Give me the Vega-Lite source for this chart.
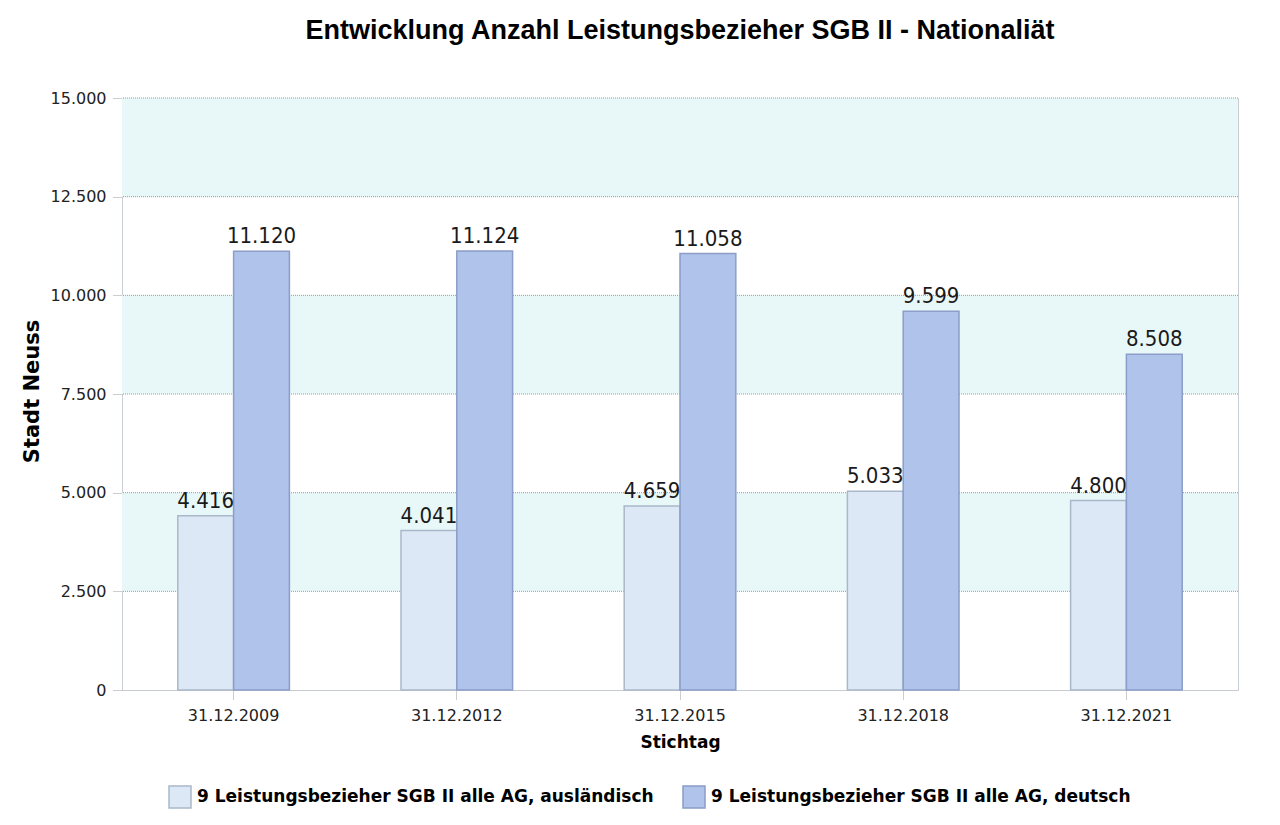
{
  "$schema": "https://vega.github.io/schema/vega-lite/v6.json",
  "autosize": "none",
  "width": 1116,
  "height": 592,
  "padding": {"left": 122, "top": 98, "right": 42, "bottom": 135},
  "background": "white",
  "config": {
    "locale": {"number": {"decimal": ",", "thousands": ".", "grouping": [3], "currency": ["", " €"]}},
    "view": {"stroke": "#c8cdd5", "strokeWidth": 1},
    "font": "DejaVu Sans"
  },
  "title": {
    "text": "Entwicklung Anzahl Leistungsbezieher SGB II - Nationaliät",
    "font": "Liberation Sans",
    "fontSize": 27,
    "fontWeight": "bold",
    "color": "#000000",
    "anchor": "middle",
    "offset": 45
  },
  "datasets": {
    "bars": [
      {"Stichtag": "31.12.2009", "Reihe": "9 Leistungsbezieher SGB II alle AG, ausländisch", "Anzahl": 4416},
      {"Stichtag": "31.12.2009", "Reihe": "9 Leistungsbezieher SGB II alle AG, deutsch", "Anzahl": 11120},
      {"Stichtag": "31.12.2012", "Reihe": "9 Leistungsbezieher SGB II alle AG, ausländisch", "Anzahl": 4041},
      {"Stichtag": "31.12.2012", "Reihe": "9 Leistungsbezieher SGB II alle AG, deutsch", "Anzahl": 11124},
      {"Stichtag": "31.12.2015", "Reihe": "9 Leistungsbezieher SGB II alle AG, ausländisch", "Anzahl": 4659},
      {"Stichtag": "31.12.2015", "Reihe": "9 Leistungsbezieher SGB II alle AG, deutsch", "Anzahl": 11058},
      {"Stichtag": "31.12.2018", "Reihe": "9 Leistungsbezieher SGB II alle AG, ausländisch", "Anzahl": 5033},
      {"Stichtag": "31.12.2018", "Reihe": "9 Leistungsbezieher SGB II alle AG, deutsch", "Anzahl": 9599},
      {"Stichtag": "31.12.2021", "Reihe": "9 Leistungsbezieher SGB II alle AG, ausländisch", "Anzahl": 4800},
      {"Stichtag": "31.12.2021", "Reihe": "9 Leistungsbezieher SGB II alle AG, deutsch", "Anzahl": 8508}
    ],
    "bands": [
      {"von": 2500, "bis": 5000},
      {"von": 7500, "bis": 10000},
      {"von": 12500, "bis": 15000}
    ],
    "grid": [
      {"wert": 2500}, {"wert": 5000}, {"wert": 7500}, {"wert": 10000}, {"wert": 12500}, {"wert": 15000}
    ]
  },
  "layer": [
    {
      "data": {"name": "bands"},
      "mark": {"type": "rect", "fill": "#e8f7f8"},
      "encoding": {
        "y": {"field": "von", "type": "quantitative", "scale": {"domain": [0, 15000], "nice": false}},
        "y2": {"field": "bis"}
      }
    },
    {
      "data": {"name": "grid"},
      "mark": {"type": "rule", "stroke": "#9a9a9a", "strokeWidth": 1, "strokeDash": [1, 1]},
      "encoding": {
        "y": {"field": "wert", "type": "quantitative"}
      }
    },
    {
      "data": {"name": "bars"},
      "mark": {"type": "bar", "strokeWidth": 1.5},
      "encoding": {
        "x": {
          "field": "Stichtag", "type": "nominal", "sort": null,
          "scale": {"paddingInner": 0.5, "paddingOuter": 0.25},
          "axis": {
            "title": "Stichtag", "labelAngle": 0,
            "labelFont": "DejaVu Sans", "labelFontSize": 16, "labelColor": "#222222", "labelPadding": 7,
            "titleFont": "DejaVu Sans", "titleFontSize": 17, "titleFontWeight": "bold", "titleColor": "#000000", "titlePadding": 11,
            "domainColor": "#c8cdd5", "tickColor": "#9a9a9a", "tickDash": [1, 1], "tickSize": 10, "grid": false
          }
        },
        "xOffset": {"field": "Reihe", "type": "nominal"},
        "y": {
          "field": "Anzahl", "type": "quantitative",
          "scale": {"domain": [0, 15000], "nice": false},
          "axis": {
            "title": "Stadt Neuss", "values": [0, 2500, 5000, 7500, 10000, 12500, 15000], "format": ",d",
            "labelFont": "DejaVu Sans", "labelFontSize": 16, "labelColor": "#222222", "labelPadding": 7,
            "titleFont": "DejaVu Sans", "titleFontSize": 21, "titleFontWeight": "bold", "titleColor": "#000000",
            "titleX": -90, "titleY": 293, "titleAngle": -90, "titleBaseline": "middle", "titleAlign": "center",
            "domainColor": "#c8cdd5", "tickColor": "#9a9a9a", "tickDash": [1, 1], "tickSize": 9, "grid": false
          }
        },
        "color": {
          "field": "Reihe", "type": "nominal",
          "scale": {"range": ["#dce8f5", "#b0c3ea"]},
          "legend": {
            "title": null, "orient": "none", "direction": "horizontal", "legendX": 46, "legendY": 687,
            "symbolType": "square", "symbolSize": 484, "symbolStrokeWidth": 1.5, "symbolOpacity": 1,
            "labelFont": "DejaVu Sans", "labelFontSize": 17, "labelFontWeight": "bold", "labelColor": "#000000",
            "labelOffset": 5, "columnPadding": 26, "labelLimit": 600
          }
        },
        "stroke": {
          "field": "Reihe", "type": "nominal",
          "scale": {"range": ["#a9b8c9", "#8b9dc8"]}
        }
      }
    },
    {
      "data": {"name": "bars"},
      "mark": {"type": "text", "baseline": "bottom", "dy": -3, "font": "DejaVu Sans Condensed", "fontSize": 22, "color": "#1a1a1a"},
      "encoding": {
        "x": {"field": "Stichtag", "type": "nominal", "sort": null},
        "xOffset": {"field": "Reihe", "type": "nominal"},
        "y": {"field": "Anzahl", "type": "quantitative"},
        "text": {"field": "Anzahl", "type": "quantitative", "format": ",d"}
      }
    }
  ]
}
